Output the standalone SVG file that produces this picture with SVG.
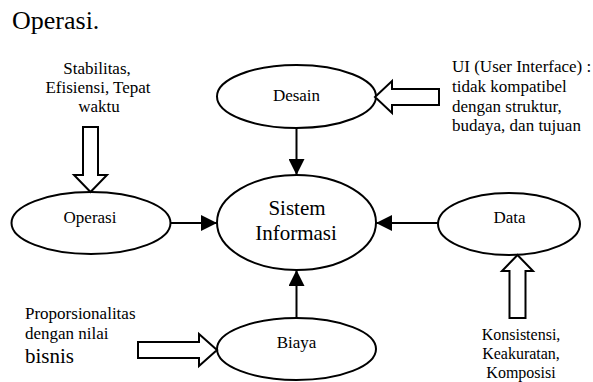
<svg xmlns="http://www.w3.org/2000/svg" width="593" height="382" viewBox="0 0 593 382" font-family="'Liberation Serif', 'DejaVu Serif', serif">
  <style>
    .node { fill: #ffffff; stroke: #000000; stroke-width: 2; }
    .conn { stroke: #000000; stroke-width: 2; fill: none; }
    .hollow { fill: #ffffff; stroke: #000000; stroke-width: 2; stroke-linejoin: miter; }
    text { font-family: 'Liberation Serif', 'DejaVu Serif', serif; fill: #000000; }
    .lbl { font-size: 17px; }
    .mid { text-anchor: middle; }
  </style>
  <defs>
    <marker id="ah" viewBox="0 0 16 16" refX="16" refY="8" markerWidth="16" markerHeight="16" markerUnits="userSpaceOnUse" orient="auto">
      <path d="M0,0 L16,8 L0,16 Z" fill="#000000"/>
    </marker>
  </defs>

  <text x="12" y="29" style="font-size:26px">Operasi.</text>

  <g id="connectors">
    <line class="conn" x1="296.5" y1="128" x2="296.5" y2="175" marker-end="url(#ah)"/>
    <line class="conn" x1="171" y1="223" x2="217" y2="223" marker-end="url(#ah)"/>
    <line class="conn" x1="438" y1="223" x2="376" y2="223" marker-end="url(#ah)"/>
    <line class="conn" x1="296.5" y1="318" x2="296.5" y2="270" marker-end="url(#ah)"/>
  </g>

  <g id="node-desain">
    <ellipse class="node" cx="296.5" cy="96.5" rx="79.5" ry="31.5"/>
    <text class="lbl mid" x="296.5" y="101">Desain</text>
  </g>

  <g id="node-sistem">
    <ellipse class="node" cx="296.5" cy="222.5" rx="79.5" ry="47.5"/>
    <text class="mid" x="297" y="215" style="font-size:21px">Sistem</text>
    <text class="mid" x="296" y="240" style="font-size:21px">Informasi</text>
  </g>

  <g id="node-operasi">
    <ellipse class="node" cx="91" cy="223" rx="79.5" ry="31"/>
    <text class="lbl mid" x="90" y="223">Operasi</text>
  </g>

  <g id="node-data">
    <ellipse class="node" cx="509" cy="224" rx="71" ry="31"/>
    <text class="lbl mid" x="509.5" y="223">Data</text>
  </g>

  <g id="node-biaya">
    <ellipse class="node" cx="296.5" cy="349" rx="79.5" ry="31"/>
    <text class="lbl mid" x="296.5" y="348">Biaya</text>
  </g>

  <g id="hollow-arrows">
    <polygon class="hollow" points="83,127 98,127 98,175 107,175 90.5,192 74,175 83,175"/>
    <polygon class="hollow" points="439,89 439,105 392,105 392,113 375,97 392,81 392,89"/>
    <polygon class="hollow" points="509.5,318 525.5,318 525.5,271 533,271 517.5,255 502,271 509.5,271"/>
    <polygon class="hollow" points="138,342 199,342 199,334 217,350 199,366 199,358 138,358"/>
  </g>

  <g id="labels">
    <text class="lbl mid" x="97" y="74">Stabilitas,</text>
    <text class="lbl mid" x="98" y="93">Efisiensi, Tepat</text>
    <text class="lbl mid" x="99" y="112">waktu</text>

    <text class="lbl" x="452" y="72">UI (User Interface) :</text>
    <text class="lbl" x="452" y="92">tidak kompatibel</text>
    <text class="lbl" x="452" y="112">dengan struktur,</text>
    <text class="lbl" x="452" y="131">budaya, dan tujuan</text>

    <text class="lbl" x="25" y="319">Proporsionalitas</text>
    <text class="lbl" x="25" y="339">dengan nilai</text>
    <text x="25" y="363" style="font-size:21px">bisnis</text>

    <text class="mid" x="521" y="340" style="font-size:16px">Konsistensi,</text>
    <text class="mid" x="521" y="359" style="font-size:16px">Keakuratan,</text>
    <text class="mid" x="521" y="378" style="font-size:16px">Komposisi</text>
  </g>
</svg>
